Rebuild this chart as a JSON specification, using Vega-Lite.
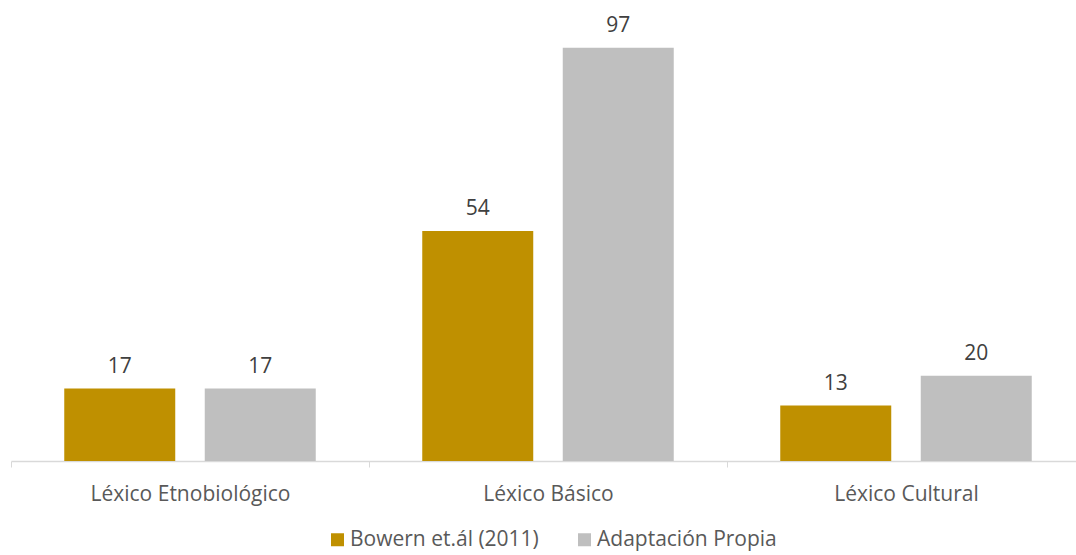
{
  "$schema": "https://vega.github.io/schema/vega-lite/v6.json",
  "width": 1065,
  "height": 426,
  "autosize": {"type": "none"},
  "padding": {"left": 11, "top": 35, "right": 0, "bottom": 94},
  "background": "white",
  "config": {"view": {"stroke": null}, "font": "Open Sans"},
  "data": {
    "values": [
      {"categoria": "Léxico Etnobiológico", "serie": "Bowern et.ál (2011)", "valor": 17},
      {"categoria": "Léxico Etnobiológico", "serie": "Adaptación Propia", "valor": 17},
      {"categoria": "Léxico Básico", "serie": "Bowern et.ál (2011)", "valor": 54},
      {"categoria": "Léxico Básico", "serie": "Adaptación Propia", "valor": 97},
      {"categoria": "Léxico Cultural", "serie": "Bowern et.ál (2011)", "valor": 13},
      {"categoria": "Léxico Cultural", "serie": "Adaptación Propia", "valor": 20}
    ]
  },
  "encoding": {
    "x": {
      "field": "categoria",
      "type": "nominal",
      "sort": ["Léxico Etnobiológico", "Léxico Básico", "Léxico Cultural"],
      "scale": {"paddingInner": 0, "paddingOuter": 0, "range": [0, 1074]},
      "axis": {
        "title": null,
        "labelAngle": 0,
        "labelFont": "Open Sans",
        "labelFontSize": 21,
        "labelColor": "#595959",
        "labelBaseline": "middle",
        "labelPadding": 27,
        "labelLimit": 400,
        "tickSize": 6,
        "tickBand": "extent",
        "tickColor": "#D9D9D9",
        "domainColor": "#D9D9D9",
        "domainWidth": 1.5,
        "grid": false
      }
    },
    "xOffset": {
      "field": "serie",
      "type": "nominal",
      "sort": ["Bowern et.ál (2011)", "Adaptación Propia"],
      "scale": {"paddingInner": 0.21, "paddingOuter": 0.379}
    },
    "y": {
      "field": "valor",
      "type": "quantitative",
      "scale": {"domain": [0, 100], "nice": false},
      "axis": null
    }
  },
  "layer": [
    {
      "mark": {"type": "bar"},
      "encoding": {
        "color": {
          "field": "serie",
          "type": "nominal",
          "sort": ["Bowern et.ál (2011)", "Adaptación Propia"],
          "scale": {"domain": ["Bowern et.ál (2011)", "Adaptación Propia"], "range": ["#BF9000", "#BFBFBF"]},
          "legend": {
            "title": null,
            "orient": "none",
            "direction": "horizontal",
            "legendX": 316,
            "legendY": 494,
            "symbolType": "square",
            "symbolSize": 169,
            "symbolStrokeWidth": 0,
            "labelFont": "Open Sans",
            "labelFontSize": 21,
            "labelColor": "#595959",
            "labelOffset": 2,
            "labelLimit": 400,
            "columnPadding": 35
          }
        }
      }
    },
    {
      "mark": {"type": "text", "baseline": "middle", "dy": -22, "font": "Open Sans", "fontSize": 21, "color": "#404040"},
      "encoding": {
        "text": {"field": "valor", "type": "quantitative"}
      }
    }
  ]
}
